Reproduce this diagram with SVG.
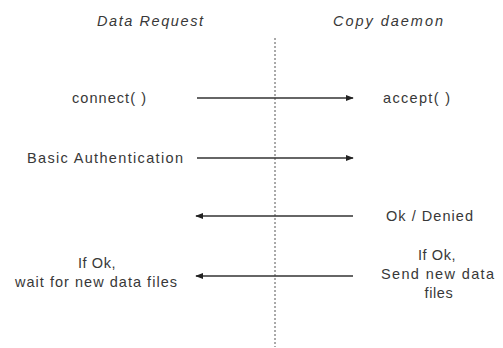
<svg xmlns="http://www.w3.org/2000/svg" width="503" height="348" viewBox="0 0 503 348">
<defs>
<marker id="ah" viewBox="0 0 10 10" refX="9" refY="5" markerWidth="8" markerHeight="8" markerUnits="userSpaceOnUse" orient="auto">
<path d="M0,1 L10,5 L0,9 z" fill="#222"/>
</marker>
<style>
text{font-family:"Liberation Sans",Arial,sans-serif;font-size:14.5px;fill:#383838}
.h{font-style:italic}
.m{text-anchor:middle;letter-spacing:0.6px}
.c{stroke:#333;stroke-width:1.3;fill:none;marker-end:url(#ah)}
.life{stroke:#555;stroke-width:1;stroke-dasharray:2,2;fill:none}
</style>
</defs>
<rect width="503" height="348" fill="#fff"/>
<g id="lifeline"><line class="life" x1="275" y1="38" x2="275" y2="347"/></g>
<g id="data-request"><text class="h" x="97" y="26" textLength="106" lengthAdjust="spacing">Data Request</text></g>
<g id="copy-daemon"><text class="h" x="333" y="26" textLength="110" lengthAdjust="spacing">Copy daemon</text></g>
<g id="connectors">
<line class="c" x1="197" y1="98" x2="353" y2="98"/>
<line class="c" x1="197" y1="158" x2="353" y2="158"/>
<line class="c" x1="353" y1="216" x2="196" y2="216"/>
<line class="c" x1="353" y1="276" x2="196" y2="276"/>
</g>
<g id="lbl-connect"><text x="72" y="103" textLength="74" lengthAdjust="spacing">connect( )</text></g>
<g id="lbl-accept"><text x="383" y="103" textLength="67" lengthAdjust="spacing">accept( )</text></g>
<g id="lbl-auth"><text x="27" y="163" textLength="156" lengthAdjust="spacing">Basic Authentication</text></g>
<g id="lbl-ok"><text x="386" y="221" textLength="87" lengthAdjust="spacing">Ok / Denied</text></g>
<g id="lbl-wait"><text class="m" x="97" y="268">If Ok,</text><text x="15" y="287" textLength="162" lengthAdjust="spacing">wait for new data files</text></g>
<g id="lbl-send"><text class="m" x="437" y="260">If Ok,</text><text x="381" y="279" textLength="113" lengthAdjust="spacing">Send new data</text><text class="m" x="439" y="298">files</text></g>
</svg>
